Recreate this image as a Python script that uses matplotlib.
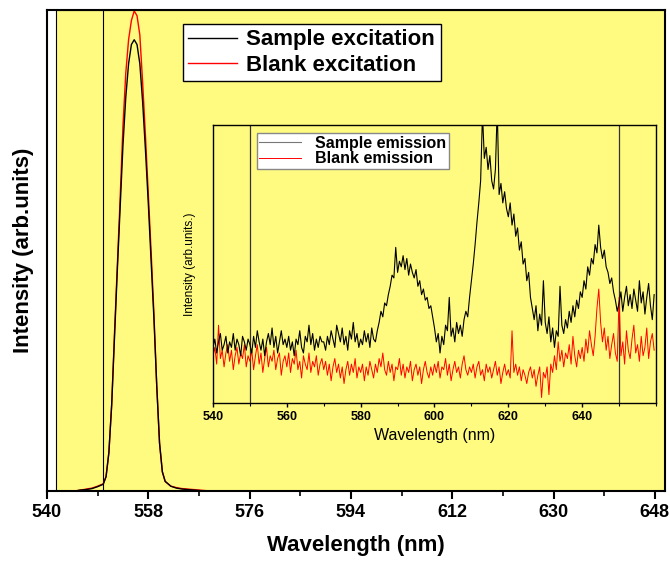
import numpy as np
import matplotlib
matplotlib.use("Agg")
from matplotlib import pyplot as plt
from matplotlib.ticker import MultipleLocator

plt.rcParams['font.family'] = ['Liberation Sans', 'DejaVu Sans']

# excitation spectra (main panel), normalised intensity
exc_wl = [545, 546, 547, 548, 549, 550, 550.5, 551, 551.5, 552, 552.5, 553, 553.5,
          554, 554.5, 555, 555.5, 556, 556.5, 557, 557.5, 558, 558.5, 559, 559.5,
          560, 560.5, 561, 562, 563, 564, 565, 566, 567, 568, 569, 570]
blank_exc = [0.0, 0.002, 0.004, 0.006, 0.01, 0.015, 0.03, 0.08, 0.18, 0.33, 0.47,
             0.61, 0.76, 0.87, 0.94, 0.98, 1.0, 0.99, 0.95, 0.85, 0.74, 0.62, 0.50,
             0.37, 0.22, 0.10, 0.04, 0.02, 0.01, 0.007, 0.005, 0.004, 0.003, 0.002,
             0.001, 0.0, 0.0]
sample_exc = [0.0, 0.002, 0.003, 0.005, 0.009, 0.014, 0.03, 0.08, 0.18, 0.32, 0.46,
              0.59, 0.72, 0.82, 0.89, 0.93, 0.94, 0.93, 0.89, 0.81, 0.71, 0.60, 0.48,
              0.36, 0.22, 0.10, 0.04, 0.02, 0.01, 0.006, 0.004, 0.003, 0.002, 0.001,
              0.0, 0.0, 0.0]

# emission spectra (inset), 0.5 nm steps from 540 nm
sample_em = [
    20, 23, 18, 22, 25, 19, 21, 24, 18, 22, 20, 25, 19, 23, 21, 17, 24, 22, 19, 23,
    21, 18, 24, 20, 26, 22, 19, 23, 17, 22, 25, 21, 27, 20, 24, 18, 22, 26, 21, 23,
    20, 24, 19, 22, 17, 23, 21, 26, 20, 18, 24, 22, 28, 21, 25, 19, 23, 20, 24, 22,
    22, 19, 24, 21, 26, 23, 20, 28, 25, 22, 27, 21, 24, 19, 26, 23, 29, 22, 25, 20,
    23, 21, 26, 22, 25, 20, 27, 23, 22, 26, 29, 33, 31, 36, 35, 39, 42, 46, 45, 56,
    47, 51, 49, 53, 48, 52, 46, 50, 47, 45, 48, 42, 44, 39, 41, 37, 38, 34, 35, 31,
    27, 22, 25, 18, 24, 21, 28, 26, 38, 24, 27, 22, 29, 25, 28, 24, 30, 33, 31, 38,
    44, 50, 57, 65, 72, 80, 104, 88, 92, 84, 89, 80, 77, 84, 106, 75, 79, 72, 76, 70,
    67, 72, 64, 68, 60, 63, 55, 58, 50, 52, 44, 47, 38, 34, 30, 35, 26, 32, 28, 44,
    29, 25, 31, 22, 27, 20, 26, 24, 42, 28, 25, 30, 27, 33, 29, 35, 31, 37, 34, 40,
    38, 44, 41, 49, 46, 52, 50, 57, 54, 64, 56, 52, 55, 49, 47, 43, 45, 40, 37, 33,
    36, 40, 33, 38, 42, 35, 39, 34, 41, 37, 33, 44, 36, 40, 32, 38, 43, 35, 30, 39,
]
blank_em = [
    17, 20, 14, 28, 16, 19, 13, 18, 21, 15, 19, 12, 17, 20, 14, 18, 16, 21, 13, 17,
    15, 19, 12, 17, 21, 14, 18, 11, 16, 20, 13, 17, 15, 19, 12, 16, 18, 10, 15, 17,
    13, 18, 11, 16, 14, 19, 12, 15, 9, 17, 14, 12, 18, 11, 15, 13, 17, 10, 14, 16,
    12, 15, 10, 14, 8, 13, 16, 11, 14, 9, 13, 7, 12, 15, 10, 14, 11, 16, 9, 13,
    11, 14, 8, 13, 10, 15, 12, 9, 14, 11, 16, 13, 18, 12, 10, 15, 11, 14, 8, 13,
    12, 16, 10, 14, 9, 13, 11, 15, 8, 12, 14, 10, 13, 7, 12, 15, 11, 9, 13, 10,
    14, 11, 15, 9, 13, 12, 16, 10, 14, 8, 12, 15, 11, 13, 9, 14, 17, 12, 10, 13,
    11, 14, 9, 13, 15, 10, 12, 8, 14, 11, 13, 9, 12, 15, 10, 13, 7, 11, 14, 10,
    12, 9, 26, 11, 14, 10, 13, 8, 12, 10, 7, 11, 13, 9, 12, 6, 10, 13, 2, 11,
    9, 13, 3, 14, 11, 17, 12, 22, 15, 19, 13, 18, 16, 21, 14, 24, 17, 13, 19, 16,
    20, 15, 23, 18, 26, 21, 17, 24, 34, 41, 29, 22, 27, 19, 24, 16, 21, 25, 18, 15,
    38, 17, 22, 14, 26, 19, 16, 23, 28, 18, 21, 15, 24, 17, 20, 27, 16, 22, 25, 19,
]
em_wl = 540 + 0.5 * np.arange(len(sample_em))

YELLOW = '#fffb80'

fig = plt.figure(figsize=(6.7, 5.61), dpi=100)
ax = fig.add_axes([0.0701, 0.1248, 0.9224, 0.8574])

ax.axvspan(541.6, 649.8, facecolor=YELLOW, edgecolor='black', lw=0.8, zorder=0)
ax.axvline(550, color='black', lw=0.8, zorder=1)
ax.plot(exc_wl, sample_exc, color='black', lw=1.0, label='Sample excitation', zorder=3)
ax.plot(exc_wl, blank_exc, color='red', lw=1.0, label='Blank excitation', zorder=2)

ax.set_xlim(540, 649.8)
ax.set_ylim(0, 1.002)
ax.set_yticks([])
ax.xaxis.set_major_locator(MultipleLocator(18))
ax.xaxis.set_minor_locator(MultipleLocator(9))
ax.tick_params(axis='x', which='major', direction='out', length=6, width=1.5, labelsize=13)
ax.tick_params(axis='x', which='minor', direction='out', length=3.5, width=1.2)
for lbl in ax.get_xticklabels():
    lbl.set_fontweight('bold')
for sp in ax.spines.values():
    sp.set_linewidth(1.5)
ax.set_xlabel('Wavelength (nm)', fontsize=16, fontweight='bold', labelpad=10)
ax.set_ylabel('Intensity (arb.units)', fontsize=16, fontweight='bold', labelpad=9)

leg = ax.legend(loc='upper left', bbox_to_anchor=(0.22, 0.971), borderaxespad=0,
                fancybox=False, framealpha=1, edgecolor='black', handlelength=2.2,
                prop={'weight': 'bold', 'size': 16}, borderpad=0.25, labelspacing=0.2,
                handletextpad=0.4)
leg.get_frame().set_linewidth(1.0)

# inset with emission spectra
ins = fig.add_axes([0.3179, 0.2816, 0.6612, 0.4955])
ins.set_facecolor(YELLOW)
ins.axvline(550, color='#333333', lw=0.9)
ins.axvline(650, color='#333333', lw=0.9)
ins.plot(em_wl, blank_em, color='red', lw=0.7, label='Blank emission', zorder=2)
ins.plot(em_wl, sample_em, color='black', lw=0.8, label='Sample emission', zorder=3)
ins.set_xlim(540, 660)
ins.set_ylim(0, 100)
ins.set_yticks([])
ins.set_xticks([540, 560, 580, 600, 620, 640])
ins.xaxis.set_minor_locator(MultipleLocator(10))
ins.tick_params(axis='x', which='major', direction='out', length=3, width=1, labelsize=9, pad=3)
ins.tick_params(axis='x', which='minor', direction='out', length=2, width=0.8)
for lbl in ins.get_xticklabels():
    lbl.set_fontweight('bold')
for sp in ins.spines.values():
    sp.set_linewidth(1.0)
ins.set_xlabel('Wavelength (nm)', fontsize=11.5, labelpad=3)
ins.set_ylabel('Intensity (arb.units.)', fontsize=8.5, labelpad=12)

h, l = ins.get_legend_handles_labels()
leg2 = ins.legend(h[::-1], l[::-1], loc='upper left', bbox_to_anchor=(0.099, 0.971),
                  borderaxespad=0, fancybox=False, framealpha=1, edgecolor='#888888',
                  handlelength=2.6, prop={'weight': 'bold', 'size': 11.5}, borderpad=0.15,
                  labelspacing=0.05, handletextpad=0.9)
leg2.get_lines()[0].set_color('#777777')

fig.savefig('out.png', dpi=100)
